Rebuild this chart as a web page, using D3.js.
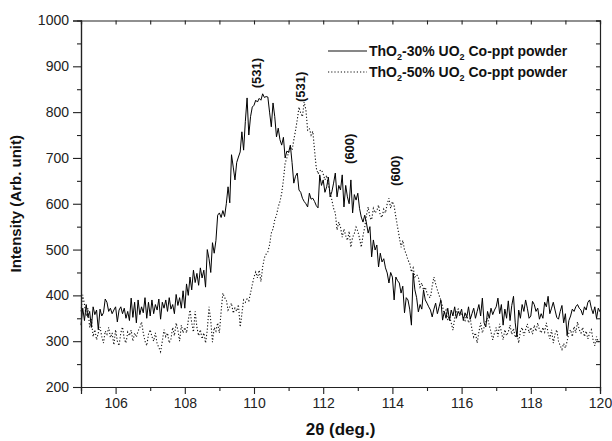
<!DOCTYPE html>
<html>
<head>
<meta charset="utf-8">
<script src="https://cdn.jsdelivr.net/npm/d3@7"></script>
<style>
  body { margin: 0; background: #fff; }
  svg { display: block; font-family: Arial, "Liberation Sans", sans-serif; }
</style>
</head>
<body>
<svg id="chart" width="612" height="441"></svg>
<script>
// x grid of the scans (deg.)
const xStart = 105, xStep = 0.05;

// ThO2-30% UO2 (solid)
const s30 = [
  335,372,345,380,352,365,330,375,358,368,325,370,355,362,392,385,365,372,360,368,
  375,342,368,375,360,372,350,365,345,394,352,385,340,390,358,375,362,395,350,385,
  355,390,360,380,368,392,348,385,372,390,365,395,370,380,360,402,378,395,372,410,
  372,425,400,440,412,455,428,448,422,460,438,455,418,500,480,450,515,492,520,575,
  580,570,585,572,600,637,602,707,680,652,690,702,713,757,717,780,831,750,790,811,
  815,826,822,830,826,840,832,834,833,800,768,820,790,746,765,740,728,745,700,715,
  712,728,690,645,660,667,630,625,612,605,600,593,623,610,612,605,596,591,663,640,
  652,625,637,658,615,626,645,667,615,640,630,663,593,640,615,600,652,580,620,608,
  623,590,571,560,575,558,536,550,484,521,499,510,462,492,473,480,460,449,427,450,
  440,390,440,432,427,405,420,362,395,390,370,335,449,412,395,364,380,370,412,390,
  383,375,368,353,370,383,360,375,390,346,365,350,372,345,368,355,375,350,365,358,
  370,345,362,352,375,348,360,372,350,365,380,355,394,340,331,365,350,372,358,368,
  375,394,360,380,335,370,350,388,345,378,398,340,309,368,350,380,365,390,372,350,
  355,387,380,365,372,348,360,350,385,375,398,360,372,385,368,352,348,365,378,340,
  360,312,345,355,370,365,375,380,372,368,357,375,368,385,390,372,360,375,350,372,364
];

// ThO2-50% UO2 (dotted)
const s50 = [
  365,401,380,355,372,330,348,310,325,303,318,331,310,296,322,315,330,308,318,292,
  325,300,290,318,331,305,296,320,312,324,300,318,309,322,330,342,318,300,290,315,
  325,310,300,318,295,286,277,300,325,310,318,296,305,330,312,340,324,300,335,318,
  330,318,345,368,340,320,365,330,312,325,305,318,296,325,375,345,298,330,322,340,
  318,365,405,395,390,368,375,383,361,372,365,380,331,360,390,385,392,388,405,423,
  440,451,438,455,430,462,482,490,495,510,536,545,565,575,593,605,623,652,689,700,
  711,724,717,739,760,783,811,798,790,822,805,761,765,750,758,717,678,665,672,674,
  665,652,662,640,625,608,590,580,543,560,549,527,545,530,520,540,505,527,535,549,
  540,525,505,530,549,575,593,570,565,590,580,585,597,575,570,588,580,600,612,590,
  605,595,571,549,527,505,520,499,490,477,470,451,460,440,445,440,418,427,412,418,
  405,397,395,420,440,425,412,400,390,375,360,368,346,355,340,324,350,365,370,355,
  362,352,345,358,340,350,325,309,318,296,320,340,318,330,342,350,335,320,303,318,
  330,310,338,320,303,325,312,320,335,315,328,308,318,296,322,330,312,325,338,318,
  330,315,335,322,340,325,318,330,320,340,318,305,325,296,315,325,300,290,282,295,
  285,300,318,325,310,332,318,342,325,318,330,310,322,305,318,325,303,290,310,298,305
];

const xTicks = [106, 108, 110, 112, 114, 116, 118, 120];
const xMinor = [105, 107, 109, 111, 113, 115, 117, 119];
const yTicks = [200, 300, 400, 500, 600, 700, 800, 900, 1000];
const yMinor = [250, 350, 450, 550, 650, 750, 850, 950];

// peak indexing labels, anchored at (2theta, intensity)
const peakX = [110.06, 111.33, 112.75, 114.08];
const peakY = [885, 855, 720, 672];
const peakText = ["(531)", "(531)", "(600)", "(600)"];

const seriesNames = [
  ["ThO", "2", "-30% UO", "2", " Co-ppt powder"],
  ["ThO", "2", "-50% UO", "2", " Co-ppt powder"]
];

const margin = {top: 20.5, right: 12, bottom: 54, left: 81};
const W = 612, H = 441;
const innerW = W - margin.left - margin.right;
const innerH = H - margin.top - margin.bottom;

const svg = d3.select("#chart");
const g = svg.append("g").attr("transform", `translate(${margin.left},${margin.top})`);

const x = d3.scaleLinear().domain([105, 120]).range([0, innerW]);
const y = d3.scaleLinear().domain([200, 1000]).range([innerH, 0]);

const axisColor = "#222";

// data lines
const line = d3.line()
  .x((d, i) => x(xStart + i * xStep))
  .y(d => y(d));

g.append("path").datum(s50)
  .attr("fill", "none").attr("stroke", "#111")
  .attr("stroke-width", 1.1)
  .attr("stroke-dasharray", "1.2,2")
  .attr("d", line);

g.append("path").datum(s30)
  .attr("fill", "none").attr("stroke", "#000")
  .attr("stroke-width", 1)
  .attr("stroke-linejoin", "round")
  .attr("d", line);

// axes
function styleAxis(sel) {
  sel.select(".domain").attr("stroke", axisColor).attr("stroke-width", 1.2);
  sel.selectAll(".tick line").attr("stroke", axisColor).attr("stroke-width", 1.1);
  sel.selectAll(".tick text").attr("fill", "#222")
    .style("font-size", "14px").style("font-family", "Arial, 'Liberation Sans', sans-serif");
}

const gx = g.append("g").attr("transform", `translate(0,${innerH})`)
  .call(d3.axisBottom(x).tickValues(xTicks).tickSize(7).tickPadding(4).tickFormat(d3.format("d")));
styleAxis(gx);
const gxm = g.append("g").attr("transform", `translate(0,${innerH})`)
  .call(d3.axisBottom(x).tickValues(xMinor).tickSize(4).tickFormat(""));
styleAxis(gxm);

const gy = g.append("g")
  .call(d3.axisLeft(y).tickValues(yTicks).tickSize(8).tickPadding(4).tickFormat(d3.format("d")));
styleAxis(gy);
const gym = g.append("g")
  .call(d3.axisLeft(y).tickValues(yMinor).tickSize(4).tickFormat(""));
styleAxis(gym);

// mirrored top / right axes, ticks inside
const gt = g.append("g")
  .call(d3.axisBottom(x).tickValues(xTicks.concat(xMinor)).tickSize(4).tickFormat(""));
styleAxis(gt);
const gr = g.append("g").attr("transform", `translate(${innerW},0)`)
  .call(d3.axisLeft(y).tickValues(yTicks.concat(yMinor)).tickSize(4).tickFormat(""));
styleAxis(gr);

// peak labels
g.selectAll(".peak").data(peakText).enter().append("text")
  .attr("class", "peak")
  .attr("transform", (d, i) => `translate(${x(peakX[i])},${y(peakY[i])}) rotate(-90)`)
  .attr("text-anchor", "middle")
  .attr("dy", "0.35em")
  .style("font-size", "13px").style("font-weight", "bold")
  .attr("fill", "#111")
  .text(d => d);

// legend
const legend = svg.append("g").attr("transform", "translate(328,51)");
seriesNames.forEach((parts, i) => {
  const row = legend.append("g").attr("transform", `translate(0,${i * 21})`);
  row.append("line")
    .attr("x1", 0).attr("x2", 39).attr("y1", 0).attr("y2", 0)
    .attr("stroke", "#111").attr("stroke-width", 1.1)
    .attr("stroke-dasharray", i === 0 ? null : "1.2,2");
  const t = row.append("text").attr("x", 41).attr("y", 5)
    .style("font-size", "14px").style("font-weight", "bold").attr("fill", "#111");
  parts.forEach((p, j) => {
    const ts = t.append("tspan").text(p);
    if (j % 2 === 1) ts.style("font-size", "9px").attr("dy", 4);
    else if (j > 0) ts.attr("dy", -4);
  });
});

// axis titles
svg.append("text")
  .attr("transform", `translate(21,${margin.top + innerH / 2}) rotate(-90)`)
  .attr("text-anchor", "middle")
  .style("font-size", "15px").style("font-weight", "bold").attr("fill", "#111")
  .text("Intensity (Arb. unit)");

svg.append("text")
  .attr("x", margin.left + innerW / 2).attr("y", 435)
  .attr("text-anchor", "middle")
  .style("font-size", "17px").style("font-weight", "bold").attr("fill", "#111")
  .text("2θ (deg.)");
</script>
</body>
</html>
